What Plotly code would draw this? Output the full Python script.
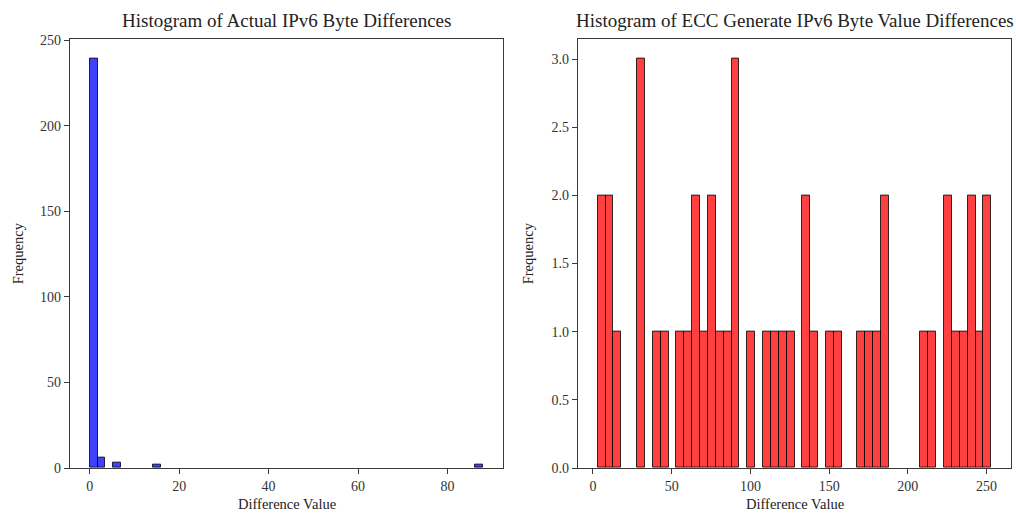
import plotly.graph_objects as go

# ---- data ----
left_title = "Histogram of Actual IPv6 Byte Differences"
right_title = "Histogram of ECC Generate IPv6 Byte Value Differences"
x_label = "Difference Value"
y_label = "Frequency"

left_bin_min, left_bin_max, left_nbins = 0, 88, 50
left_counts = [0] * 50
left_counts[0] = 239
left_counts[1] = 6
left_counts[3] = 3
left_counts[8] = 2
left_counts[49] = 2

right_bin_min, right_bin_max, right_nbins = 3, 253, 50
right_counts = [2, 2, 1, 0, 0, 3, 0, 1, 1, 0,
                1, 1, 2, 1, 2, 1, 1, 3, 0, 1,
                0, 1, 1, 1, 1, 0, 2, 1, 0, 1,
                1, 0, 0, 1, 1, 1, 2, 0, 0, 0,
                0, 1, 1, 0, 2, 1, 1, 2, 1, 2]

left_ticks = [0, 20, 40, 60, 80]
left_yticks = [0, 50, 100, 150, 200, 250]
right_ticks = [0, 50, 100, 150, 200, 250]
right_yticks = [0.0, 0.5, 1.0, 1.5, 2.0, 2.5, 3.0]


def bins(lo, hi, n):
    w = (hi - lo) / n
    centers = [lo + w * (i + 0.5) for i in range(n)]
    return centers, w


W, H = 1016, 513
FIG_H = 520
FONT = "Liberation Serif"
AX = "#3a3a3a"

fig = go.Figure()

lc, lw = bins(left_bin_min, left_bin_max, left_nbins)
fig.add_trace(go.Bar(x=lc, y=[c if c else None for c in left_counts], width=lw,
                     marker=dict(color="rgba(0,0,255,0.75)",
                                 line=dict(color="rgba(0,0,0,0.8)", width=1)),
                     xaxis="x", yaxis="y", showlegend=False))

rc, rw = bins(right_bin_min, right_bin_max, right_nbins)
fig.add_trace(go.Bar(x=rc, y=[c if c else None for c in right_counts], width=rw,
                     marker=dict(color="rgba(255,0,0,0.75)",
                                 line=dict(color="rgba(0,0,0,0.8)", width=1)),
                     xaxis="x2", yaxis="y2", showlegend=False))

ydom = [1 - 468.5 / H, 1 - 34 / H]
ldom = [70 / W, 503 / W]
rdom = [578 / W, 1011 / W]

lspan = left_bin_max - left_bin_min
rspan = right_bin_max - right_bin_min
axcommon = dict(showgrid=False, zeroline=False, showline=True, mirror=True,
                linecolor=AX, linewidth=1.2, ticks="outside", ticklen=5,
                tickcolor=AX, tickwidth=1,
                tickfont=dict(family=FONT, size=14, color="#333333"))

fig.update_layout(
    width=W, height=FIG_H, autosize=False,
    margin=dict(l=0, r=0, t=0, b=0),
    paper_bgcolor="white", plot_bgcolor="white",
    bargap=0,
    xaxis=dict(domain=ldom, anchor="y",
               range=[left_bin_min - 0.05 * lspan, left_bin_max + 0.05 * lspan],
               tickvals=left_ticks, **axcommon),
    yaxis=dict(domain=ydom, anchor="x",
               range=[0, max(left_counts) * 1.05],
               tickvals=left_yticks, **axcommon),
    xaxis2=dict(domain=rdom, anchor="y2",
                range=[right_bin_min - 0.05 * rspan, right_bin_max + 0.05 * rspan],
                tickvals=right_ticks, **axcommon),
    yaxis2=dict(domain=ydom, anchor="x2",
                range=[0, max(right_counts) * 1.05],
                tickvals=right_yticks, tickformat=".1f", **axcommon),
)

tfont = dict(family=FONT, size=19, color="#222222")
lfont = dict(family=FONT, size=14.5, color="#222222")
ann = [
    dict(text=left_title, x=(ldom[0] + ldom[1]) / 2, y=1 - 16 / H, font=tfont),
    dict(text=right_title, x=(rdom[0] + rdom[1]) / 2, y=1 - 16 / H, font=tfont),
    dict(text=x_label, x=(ldom[0] + ldom[1]) / 2, y=1 - 505 / H, font=lfont),
    dict(text=x_label, x=(rdom[0] + rdom[1]) / 2, y=1 - 505 / H, font=lfont),
    dict(text=y_label, x=18 / W, y=(ydom[0] + ydom[1]) / 2, font=lfont, textangle=-90),
    dict(text=y_label, x=528 / W, y=(ydom[0] + ydom[1]) / 2, font=lfont, textangle=-90),
]
for a in ann:
    a.update(xref="paper", yref="paper", showarrow=False,
             xanchor="center", yanchor="middle")
fig.update_layout(annotations=ann)

fig.write_html("out.html", config=dict(displayModeBar=False, responsive=False),
               post_script="document.body.style.margin='0';document.body.style.overflow='hidden';")
